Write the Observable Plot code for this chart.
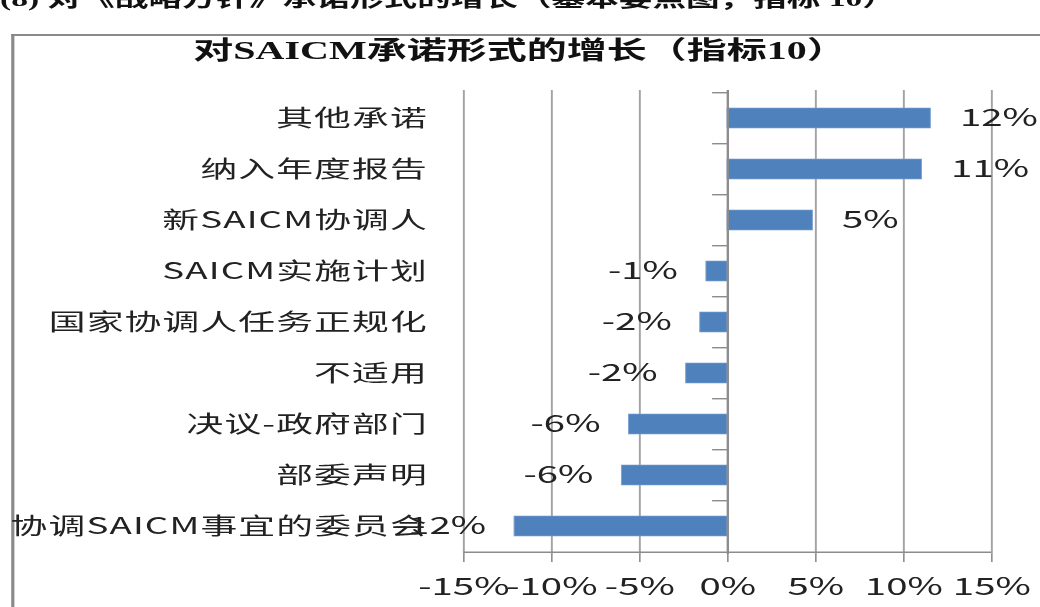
<!DOCTYPE html>
<html>
<head>
<meta charset="utf-8">
<script src="https://cdn.jsdelivr.net/npm/d3@7"></script>
<script src="https://cdn.jsdelivr.net/npm/@observablehq/plot@0.6"></script>
<style>
  html, body { margin: 0; padding: 0; background: #fff; overflow: hidden; }
  #page {
    position: relative; width: 650px; height: 607px;
    transform: scaleX(1.6); transform-origin: 0 0;
    font-family: "Noto Sans CJK SC", sans-serif; color: #222;
  }
  #header {
    position: absolute; left: 0; top: -18px; white-space: nowrap;
    font: bold 21px "Liberation Serif", "Noto Sans CJK SC", serif; color: #111;
  }
  #box {
    position: absolute; left: 7px; top: 34px; width: 700px; height: 700px;
    border-left: 2px solid #8a8a8a; border-top: 2px solid #8a8a8a;
  }
  #title {
    position: absolute; left: 0; top: 30px; width: 650px; text-align: center;
    font: bold 25px "Liberation Serif", "Noto Sans CJK SC", serif; color: #111;
  }
  #chart { position: absolute; left: 0; top: 80px; }
</style>
</head>
<body>
<div id="page">
  <div id="header">(8) 对《战略方针》承诺形式的增长（基本要点图，指标 10）</div>
  <div id="box"></div>
  <div id="title">对SAICM承诺形式的增长（指标10）</div>
  <div id="chart"></div>
</div>
<script>
const categories = ["其他承诺", "纳入年度报告", "新SAICM协调人", "SAICM实施计划", "国家协调人任务正规化", "不适用", "决议-政府部门", "部委声明", "协调SAICM事宜的委员会"];
const values = [11.55, 11.05, 4.85, -1.2, -1.55, -2.35, -5.6, -6.0, -12.1];
const valueLabels = ["12%", "11%", "5%", "-1%", "-2%", "-2%", "-6%", "-6%", "-12%"];
const xTicks = [-15, -10, -5, 0, 5, 10, 15];

const data = categories.map((c, i) => ({cat: c, value: values[i], label: valueLabels[i]}));

const W = 650, H = 527, mt = 10, mb = 53, ml = 289.4, mr = 30.6;
const step = (H - mt - mb) / categories.length;
const gray = "#8c8c8c";

const svg = Plot.plot({
  width: W, height: H,
  marginTop: mt, marginBottom: mb, marginLeft: ml, marginRight: mr,
  style: {fontFamily: "'Noto Sans CJK SC', sans-serif", background: "transparent", overflow: "visible", color: "#222"},
  x: {domain: [xTicks[0], xTicks[xTicks.length - 1]]},
  y: {domain: categories, paddingInner: 0.6, paddingOuter: 0.3},
  marks: [
    Plot.ruleX(xTicks, {stroke: "#a3a3a3", strokeWidth: 1.2}),
    Plot.barX(data, {x: "value", y: "cat", fill: "#4F81BD", stroke: "#7fa3d4", strokeWidth: 0.6}),
    Plot.ruleX([0], {stroke: gray, strokeWidth: 1.4}),
    Plot.ruleY(categories, {y: d => d, x1: -0.85, x2: 0, dy: -step / 2, stroke: gray, strokeWidth: 1.4}),
    Plot.ruleY([categories[categories.length - 1]], {y: d => d, x1: xTicks[0], x2: xTicks[xTicks.length - 1], dy: step / 2, stroke: gray, strokeWidth: 1.4}),
    Plot.axisX({ticks: xTicks, tickFormat: d => d + "%", tickSize: 8, tickPadding: 15, stroke: gray, fill: "#222", fontSize: 24, label: null}),
    Plot.axisY({tickSize: 0, tickPadding: 22.5, fontSize: 23, fill: "#222", label: null}),
    Plot.text(data.filter(d => d.value >= 0), {x: "value", y: "cat", text: "label", dx: 18, textAnchor: "start", fontSize: 24, fill: "#222"}),
    Plot.text(data.filter(d => d.value < 0), {x: "value", y: "cat", text: "label", dx: -18, textAnchor: "end", fontSize: 24, fill: "#222"})
  ]
});
d3.select(svg).selectAll('g[aria-label="y-axis tick label"] text').style("letter-spacing", "0.7px");
document.getElementById("chart").appendChild(svg);
</script>
</body>
</html>
